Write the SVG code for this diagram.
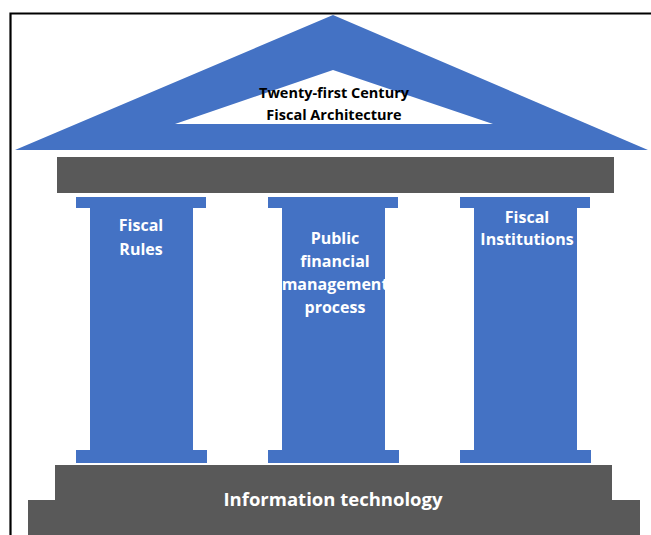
<svg xmlns="http://www.w3.org/2000/svg" width="651" height="535" viewBox="0 0 651 535">
<style>
.blue{fill:#4472C4}
.gray{fill:#595959}
.t{font-family:"Open Sans","Liberation Sans",sans-serif;font-weight:bold;text-anchor:middle}
.w{fill:#ffffff;font-size:16px}
.k{fill:#000000;font-size:14.5px}
</style>
<rect width="651" height="535" fill="#ffffff"/>
<path d="M10.5,535 V13.5 H651" fill="none" stroke="#000" stroke-width="2.2"/>
<g id="roof">
<path class="blue" fill-rule="evenodd" d="M333,15 L648,150 L15,150 Z M333,70 L175,124 L493,124 Z"/>
<text class="t k" x="334" y="98">Twenty-first Century</text>
<text class="t k" x="334" y="120">Fiscal Architecture</text>
</g>
<g id="architrave"><rect class="gray" x="57" y="157" width="557" height="36"/></g>
<g id="col1">
<rect class="blue" x="76" y="197" width="130" height="11"/>
<rect class="blue" x="90" y="207" width="103" height="244"/>
<rect class="blue" x="76" y="450" width="131" height="13"/>
<text class="t w" x="141" y="231">Fiscal</text>
<text class="t w" x="141" y="255">Rules</text>
</g>
<g id="col2">
<rect class="blue" x="268" y="197" width="130" height="11"/>
<rect class="blue" x="282" y="207" width="103" height="244"/>
<rect class="blue" x="268" y="450" width="131" height="13"/>
<text class="t w" x="335" y="244">Public</text>
<text class="t w" x="335" y="267">financial</text>
<text class="t w" x="335" y="290">management</text>
<text class="t w" x="335" y="313">process</text>
</g>
<g id="col3">
<rect class="blue" x="460" y="197" width="130" height="11"/>
<rect class="blue" x="474" y="207" width="103" height="244"/>
<rect class="blue" x="460" y="450" width="131" height="13"/>
<text class="t w" x="527" y="223">Fiscal</text>
<text class="t w" x="527" y="245">Institutions</text>
</g>
<g id="base">
<rect class="gray" x="55" y="465" width="557" height="36"/>
<rect class="gray" x="28" y="500" width="612" height="35"/>
<text class="t" x="333" y="506" fill="#ffffff" font-size="18.5">Information technology</text>
</g>
</svg>
